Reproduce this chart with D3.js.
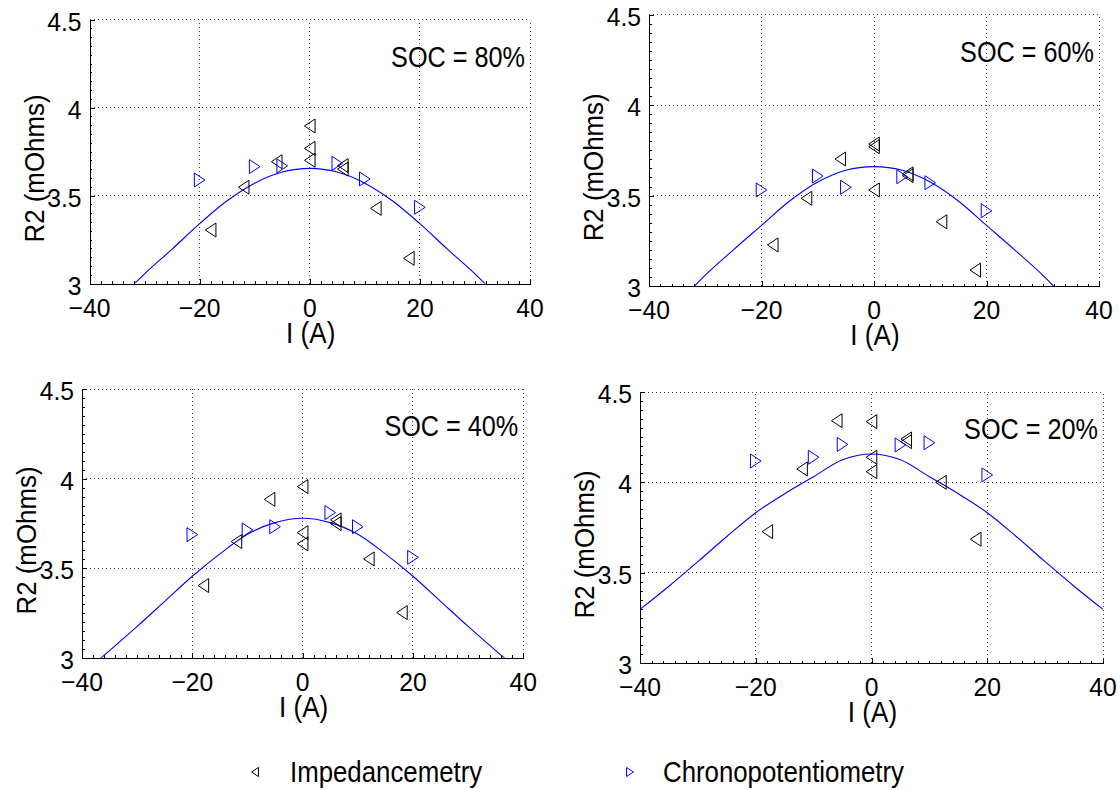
<!DOCTYPE html>
<html><head><meta charset="utf-8">
<script src="https://cdn.jsdelivr.net/npm/d3@7"></script>
<style>body{margin:0;background:#fff} svg{display:block}</style>
</head><body><svg id="c" width="1120" height="790"></svg>
<script>
// ---- data ----
const socLabels = ["SOC = 80%", "SOC = 60%", "SOC = 40%", "SOC = 20%"];
const xTicks = [-40, -20, 0, 20, 40];
const xTickLabels = ["\u221240", "\u221220", "0", "20", "40"];
const yTicks = [3, 3.5, 4, 4.5];
const yTickLabels = ["3", "3.5", "4", "4.5"];
const legendLabels = ["Impedancemetry", "Chronopotentiometry"];

const impI = [-18, -12, -6, 0, 0, 0, 6, 6, 12, 18];
const imp80 = [3.304, 3.547, 3.692, 3.895, 3.768, 3.700, 3.670, 3.650, 3.427, 3.143];
const imp60 = [3.227, 3.485, 3.702, 3.785, 3.770, 3.531, 3.620, 3.610, 3.355, 3.088];
const imp40 = [3.403, 3.649, 3.885, 3.956, 3.699, 3.636, 3.770, 3.750, 3.552, 3.252];
const imp20 = [3.727, 4.074, 4.341, 4.336, 4.139, 4.059, 4.240, 4.225, 4.000, 3.685];

const chrI = [-20, -10, -5, 5, 10, 20];
const chr80 = [3.588, 3.664, 3.668, 3.683, 3.594, 3.433];
const chr60 = [3.531, 3.608, 3.546, 3.604, 3.571, 3.416];
const chr40 = [3.688, 3.714, 3.732, 3.811, 3.732, 3.561];
const chr20 = [4.118, 4.139, 4.210, 4.207, 4.219, 4.041];

const fitI = [-40, -35, -30, -25, -20, -15, -10, -5, 0, 5, 10, 15, 20, 25, 30, 35, 40];
const fit80 = [2.75, 2.90, 3.055, 3.195, 3.34, 3.47, 3.57, 3.633, 3.654, 3.633, 3.57, 3.47, 3.34, 3.195, 3.055, 2.90, 2.75];
const fit60 = [2.75, 2.90, 3.06, 3.20, 3.335, 3.47, 3.575, 3.64, 3.66, 3.64, 3.575, 3.47, 3.335, 3.20, 3.06, 2.90, 2.75];
const fit40 = [2.91, 3.04, 3.175, 3.315, 3.455, 3.58, 3.69, 3.755, 3.779, 3.755, 3.69, 3.58, 3.455, 3.315, 3.175, 3.04, 2.91];
const fit20 = [3.297, 3.425, 3.561, 3.70, 3.832, 3.937, 4.031, 4.125, 4.157, 4.125, 4.031, 3.937, 3.832, 3.70, 3.561, 3.425, 3.297];

const impSeries = [imp80, imp60, imp40, imp20];
const chrSeries = [chr80, chr60, chr40, chr20];
const fitSeries = [fit80, fit60, fit40, fit20];

// ---- layout ----
const boxes = [
  {l: 89.5, r: 530, t: 19.5, b: 283.5},
  {l: 649, r: 1099, t: 14.7, b: 286},
  {l: 82, r: 523.3, t: 389.3, b: 657.7},
  {l: 640, r: 1103, t: 392, b: 663}
];
const FONT = "'Liberation Sans', Arial, Helvetica, sans-serif";
const BLUE = "#0000ff";
const svg = d3.select("#c");

function txt(g, s, x, y, size, anchor, sx) {
  return g.append("text")
    .attr("transform", `translate(${x},${y}) scale(${sx},1)`)
    .attr("text-anchor", anchor)
    .attr("font-family", FONT)
    .attr("font-size", size)
    .attr("fill", "#000")
    .text(s);
}
function triLeft(cx, cy, s) { // '<'
  const w = 5.3 * s, h = 7 * s;
  return `M${cx - w},${cy}L${cx + w},${cy - h}L${cx + w},${cy + h}Z`;
}
function triRight(cx, cy, s) { // '>'
  const w = 5.3 * s, h = 7 * s;
  return `M${cx + w},${cy}L${cx - w},${cy - h}L${cx - w},${cy + h}Z`;
}

boxes.forEach((bx, k) => {
  const x = d3.scaleLinear().domain([-40, 40]).range([bx.l, bx.r]);
  const y = d3.scaleLinear().domain([3, 4.5]).range([bx.b, bx.t]);
  const g = svg.append("g");

  const cid = "clip" + k;
  svg.append("clipPath").attr("id", cid).append("rect")
    .attr("x", bx.l).attr("y", bx.t).attr("width", bx.r - bx.l).attr("height", bx.b - bx.t);

  // grid
  const grid = g.append("g").attr("stroke", "#444").attr("stroke-width", 1)
    .attr("stroke-dasharray", "1,3").attr("shape-rendering", "crispEdges");
  xTicks.slice(1).forEach(v => grid.append("line")
    .attr("x1", x(v)).attr("x2", x(v)).attr("y1", bx.b).attr("y2", bx.t));
  yTicks.slice(1).forEach(v => grid.append("line")
    .attr("x1", bx.l).attr("x2", bx.r).attr("y1", y(v)).attr("y2", y(v)));

  // axes with inward ticks (major + minor)
  const xMinor = d3.range(-40, 40.001, 2);
  const yMinor = d3.range(3, 4.5001, 0.05);
  g.append("g").attr("transform", `translate(0,${bx.b})`)
    .call(d3.axisBottom(x).tickValues(xMinor).tickSizeInner(-2.5).tickSizeOuter(0).tickFormat(""))
    .call(a => a.selectAll("path,line").attr("stroke", "#000").attr("shape-rendering", "crispEdges"));
  g.append("g").attr("transform", `translate(0,${bx.b})`)
    .call(d3.axisBottom(x).tickValues(xTicks).tickSizeInner(-5).tickSizeOuter(0).tickFormat(""))
    .call(a => a.select(".domain").remove())
    .call(a => a.selectAll("line").attr("stroke", "#000").attr("shape-rendering", "crispEdges"));
  g.append("g").attr("transform", `translate(${bx.l},0)`)
    .call(d3.axisLeft(y).tickValues(yMinor).tickSizeInner(-2.5).tickSizeOuter(0).tickFormat(""))
    .call(a => a.selectAll("path,line").attr("stroke", "#000").attr("shape-rendering", "crispEdges"));
  g.append("g").attr("transform", `translate(${bx.l},0)`)
    .call(d3.axisLeft(y).tickValues(yTicks).tickSizeInner(-5).tickSizeOuter(0).tickFormat(""))
    .call(a => a.select(".domain").remove())
    .call(a => a.selectAll("line").attr("stroke", "#000").attr("shape-rendering", "crispEdges"));

  // tick labels
  xTicks.forEach((v, i) => txt(g, xTickLabels[i], x(v), bx.b + 33, 26, "middle", 0.95));
  yTicks.forEach((v, i) => txt(g, yTickLabels[i], bx.l - 8, y(v) + 11, 26, "end", 0.95));

  // axis labels
  txt(g, "I (A)", (bx.l + bx.r) / 2 + 1, bx.b + 59, 29, "middle", 0.9);
  g.append("text")
    .attr("transform", `translate(${bx.l - 46},${(bx.t + bx.b) / 2 + 17}) rotate(-90)`)
    .attr("text-anchor", "middle").attr("font-family", FONT).attr("font-size", 27)
    .attr("textLength", 148).attr("lengthAdjust", "spacingAndGlyphs")
    .text("R2 (mOhms)");
  txt(g, socLabels[k], bx.r - 5, bx.t + 47, 29, "end", 0.87);

  // fit curve
  const line = d3.line().x((d, i) => x(fitI[i])).y(d => y(d)).curve(d3.curveCatmullRom);
  g.append("path").datum(fitSeries[k]).attr("d", line)
    .attr("fill", "none").attr("stroke", BLUE).attr("stroke-width", 1.1)
    .attr("clip-path", `url(#${cid})`);

  // markers
  g.append("g").selectAll("path").data(impSeries[k]).join("path")
    .attr("d", (d, i) => triLeft(x(impI[i]), y(d), 1))
    .attr("fill", "none").attr("stroke", "#000").attr("stroke-width", 1);
  g.append("g").selectAll("path").data(chrSeries[k]).join("path")
    .attr("d", (d, i) => triRight(x(chrI[i]), y(d), 1))
    .attr("fill", "none").attr("stroke", BLUE).attr("stroke-width", 1);
});

// legend
const lg = svg.append("g");
lg.append("path").attr("d", triLeft(255, 772, 0.65)).attr("fill", "none").attr("stroke", "#000");
lg.append("path").attr("d", triRight(630, 772, 0.65)).attr("fill", "none").attr("stroke", BLUE);
txt(lg, legendLabels[0], 290, 782, 29, "start", 0.89);
txt(lg, legendLabels[1], 663, 782, 29, "start", 0.89);
</script></body></html>
